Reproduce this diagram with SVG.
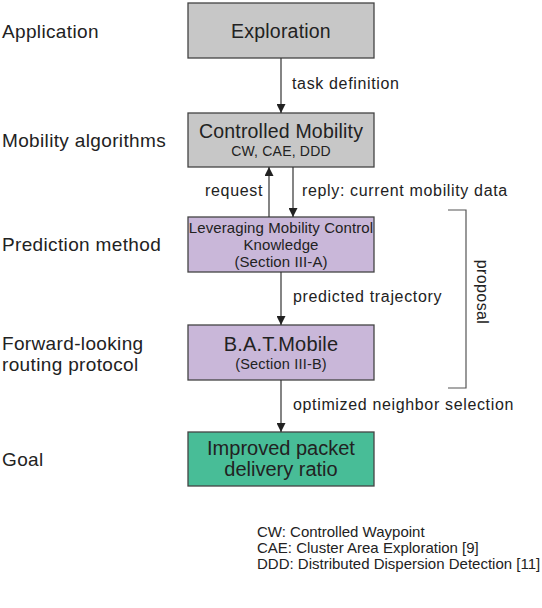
<svg xmlns="http://www.w3.org/2000/svg" width="542" height="608" viewBox="0 0 542 608">
<defs>
<marker id="ah" viewBox="0 0 10 10" refX="10" refY="5" markerWidth="9" markerHeight="9" markerUnits="userSpaceOnUse" orient="auto">
<path d="M0,0 L10,5 L0,10 z" fill="#222"/>
</marker>
<style>
text{font-family:"Liberation Sans",Arial,sans-serif;fill:#222}
.box{stroke:#444;stroke-width:1.3}
.gray{fill:#c7c7c7}
.purple{fill:#c9b7d9}
.green{fill:#48bd97}
.lvl{font-size:19px;letter-spacing:0.35px}
.big{font-size:19.5px;letter-spacing:0.2px;text-anchor:middle}
.sm{font-size:14px;letter-spacing:0.2px;text-anchor:middle}
.md{font-size:15px;letter-spacing:0.1px;text-anchor:middle}
.lbl{font-size:16px;letter-spacing:0.65px}
.note{font-size:15px}
.conn line,.conn path{stroke:#333;stroke-width:1.2;fill:none}
</style>
</defs>
<rect width="542" height="608" fill="#fff"/>
<g id="levels">
<text class="lvl" x="2" y="38">Application</text>
<text class="lvl" x="2" y="147">Mobility algorithms</text>
<text class="lvl" x="2" y="251">Prediction method</text>
<text class="lvl" x="2" y="350">Forward-looking</text>
<text class="lvl" x="2" y="371">routing protocol</text>
<text class="lvl" x="2" y="466">Goal</text>
</g>
<g id="exploration">
<rect class="box gray" x="188" y="3" width="186" height="55"/>
<text class="big" x="281" y="38">Exploration</text>
</g>
<g id="controlled-mobility">
<rect class="box gray" x="188" y="113" width="186" height="54"/>
<text class="big" x="281" y="138">Controlled Mobility</text>
<text class="sm" x="281" y="156">CW, CAE, DDD</text>
</g>
<g id="leveraging">
<rect class="box purple" x="188" y="217" width="186" height="55"/>
<text class="md" x="281" y="233">Leveraging Mobility Control</text>
<text class="md" x="281" y="249.5">Knowledge</text>
<text class="md" x="281" y="267">(Section III-A)</text>
</g>
<g id="batmobile">
<rect class="box purple" x="188" y="325" width="186" height="55"/>
<text class="big" x="281" y="351" style="font-size:20px">B.A.T.Mobile</text>
<text class="sm" x="281" y="369" style="font-size:14.5px">(Section III-B)</text>
</g>
<g id="goal">
<rect class="box green" x="188" y="432" width="186" height="54"/>
<text class="big" x="281" y="455" style="font-size:20px;letter-spacing:0">Improved packet</text>
<text class="big" x="281" y="476" style="font-size:20px;letter-spacing:0">delivery ratio</text>
</g>
<g class="conn" id="connectors">
<line x1="281" y1="58" x2="281" y2="113" marker-end="url(#ah)"/>
<line x1="269" y1="217" x2="269" y2="167" marker-end="url(#ah)"/>
<line x1="293" y1="167" x2="293" y2="217" marker-end="url(#ah)"/>
<line x1="281" y1="272" x2="281" y2="325" marker-end="url(#ah)"/>
<line x1="281" y1="380" x2="281" y2="432" marker-end="url(#ah)"/>
<path d="M448,210 H466 V388 H448" style="stroke:#555"/>
</g>
<g id="connector-labels">
<text class="lbl" x="292" y="89">task definition</text>
<text class="lbl" x="263" y="196" text-anchor="end">request</text>
<text class="lbl" x="302" y="196">reply: current mobility data</text>
<text class="lbl" x="293" y="302">predicted trajectory</text>
<text class="lbl" x="293" y="410">optimized neighbor selection</text>
<text class="lbl" x="0" y="0" text-anchor="middle" transform="translate(477,292) rotate(90)" style="letter-spacing:0.4px">proposal</text>
</g>
<g id="notes">
<text class="note" x="257" y="537">CW: Controlled Waypoint</text>
<text class="note" x="257" y="553">CAE: Cluster Area Exploration [9]</text>
<text class="note" x="257" y="569">DDD: Distributed Dispersion Detection [11]</text>
</g>
</svg>
